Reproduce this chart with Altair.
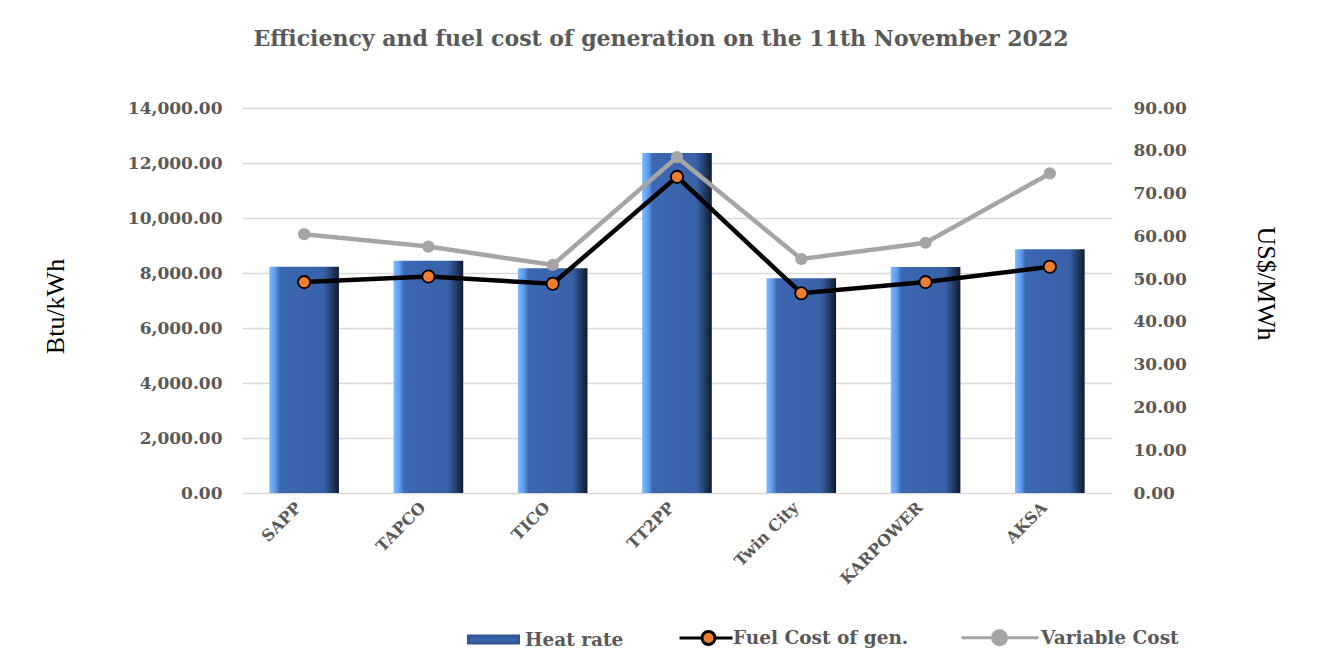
import altair as alt
import pandas as pd

plants = ["SAPP", "TAPCO", "TICO", "TT2PP", "Twin City", "KARPOWER", "AKSA"]
heat_rate = [8230, 8450, 8170, 12360, 7810, 8220, 8860]
fuel_cost = [49.3, 50.6, 48.9, 73.9, 46.7, 49.3, 52.9]
variable_cost = [60.5, 57.6, 53.3, 78.5, 54.7, 58.5, 74.7]

series_names = ["Heat rate", "Fuel Cost of gen.", "Variable Cost"]
fill_colors = ["#3a64aa", "#ED7D31", "#A5A5A5"]
stroke_colors = ["#2f5597", "#000000", "#A5A5A5"]
legend_shapes = [
    "M-0.5,-0.35H4.5V0.35H-0.5Z",
    "M-0.2,0H2.05M3.35,0H5.1M3.35,0A0.65,0.65 0 1,1 2.05,0A0.65,0.65 0 1,1 3.35,0Z",
    "M-2.8,0H0.3M1.7,0H4.9M1.7,0A0.7,0.7 0 1,1 0.3,0A0.7,0.7 0 1,1 1.7,0Z",
]

FONT = "DejaVu Serif"
GREY = "#595959"

bars_df = pd.DataFrame({"plant": plants, "heat": heat_rate})
lines_df = pd.DataFrame({
    "plant": plants * 2,
    "series": ["Fuel Cost of gen."] * len(plants) + ["Variable Cost"] * len(plants),
    "cost": fuel_cost + variable_cost,
})

x_enc = alt.X(
    "plant:N",
    sort=plants,
    scale=alt.Scale(paddingInner=0.44, paddingOuter=0.22),
    axis=alt.Axis(
        title=None, labelAngle=-45, labelFont=FONT, labelFontWeight="bold",
        labelFontSize=16, labelColor=GREY, ticks=False, domain=False,
        labelPadding=6, labelOffset=-11,
    ),
)

bar_gradient = alt.Gradient(
    gradient="linear",
    x1=0, x2=1, y1=0, y2=0,
    stops=[
        alt.GradientStop(color="#7cb9ff", offset=0),
        alt.GradientStop(color="#5b9aea", offset=0.09),
        alt.GradientStop(color="#3c68b2", offset=0.15),
        alt.GradientStop(color="#3861a8", offset=0.78),
        alt.GradientStop(color="#284677", offset=0.87),
        alt.GradientStop(color="#101a30", offset=1),
    ],
)

bars = alt.Chart(bars_df).mark_bar(fill=bar_gradient).encode(
    x=x_enc,
    y=alt.Y(
        "heat:Q",
        scale=alt.Scale(domain=[0, 14000], nice=False),
        axis=alt.Axis(
            values=[0, 2000, 4000, 6000, 8000, 10000, 12000, 14000],
            format=",.2f", labelFont=FONT, labelFontWeight="bold",
            labelFontSize=17, labelColor=GREY, ticks=False, domain=False,
            labelPadding=20, gridColor="#d9d9d9", gridWidth=1.5,
            title="Btu/kWh", titleFont="Liberation Serif", titleFontWeight="normal",
            titleFontSize=26, titleColor="#000000", titleX=-187, titleY=198,
            titleAngle=-90, titleAlign="center", titleBaseline="middle",
        ),
    ),
)

right_axis = alt.Axis(
    orient="right",
    values=[0, 10, 20, 30, 40, 50, 60, 70, 80, 90],
    format=".2f", labelFont=FONT, labelFontWeight="bold",
    labelFontSize=17, labelColor=GREY, ticks=False, domain=False,
    labelPadding=21, grid=False,
    title="US$/MWh", titleFont="Liberation Serif", titleFontWeight="normal",
    titleFontSize=26, titleColor="#000000", titleX=153, titleY=175,
    titleAngle=90, titleAlign="center", titleBaseline="middle",
)

y_cost = alt.Y("cost:Q", scale=alt.Scale(domain=[0, 90], nice=False), axis=right_axis)

lines = alt.Chart(lines_df).mark_line(strokeWidth=4.5).encode(
    x=x_enc,
    y=y_cost,
    detail="series:N",
    color=alt.Color("series:N", scale=alt.Scale(domain=["Fuel Cost of gen.", "Variable Cost"], range=["#000000", "#A5A5A5"]), legend=None),
)

var_points = alt.Chart(lines_df).transform_filter(
    alt.datum.series == "Variable Cost"
).mark_point(filled=True, size=150, shape="circle", color="#A5A5A5", opacity=1).encode(
    x=x_enc, y=y_cost,
)

fuel_points = alt.Chart(lines_df).transform_filter(
    alt.datum.series == "Fuel Cost of gen."
).mark_point(filled=True, size=150, shape="circle", fill="#ED7D31", stroke="#000000",
             strokeWidth=1.8, opacity=1).encode(
    x=x_enc, y=y_cost,
)

legend_layer = alt.Chart(lines_df).transform_filter("false").mark_point(filled=True, opacity=1).encode(
    x=x_enc,
    y=y_cost,
    fill=alt.Fill("series:N", scale=alt.Scale(domain=series_names, range=fill_colors),
                  legend=alt.Legend(
                      title=None, orient="none", legendX=220, legendY=518,
                      direction="horizontal", columns=3, columnPadding=46,
                      symbolSize=400, symbolStrokeWidth=3, labelOffset=40,
                      labelFont=FONT, labelFontWeight="bold", labelFontSize=18.5,
                      labelColor=GREY, symbolOpacity=1, labelLimit=400,
                  )),
    stroke=alt.Stroke("series:N", scale=alt.Scale(domain=series_names, range=stroke_colors)),
    shape=alt.Shape("series:N", scale=alt.Scale(domain=series_names, range=legend_shapes)),
)

left_layer = bars
right_layer = alt.layer(lines, var_points, fuel_points, legend_layer)

chart = alt.layer(left_layer, right_layer).resolve_scale(
    y="independent", color="independent"
).properties(
    width=870,
    height=385,
    background="white",
    autosize=alt.AutoSizeParams(type="none"),
    padding={"left": 234, "top": 100, "right": 190, "bottom": 160},
    title=alt.TitleParams(
        "Efficiency and fuel cost of generation on the 11th November 2022",
        font=FONT, fontSize=22, fontWeight="bold", color=GREY,
        anchor="middle", offset=48, dx=-16,
    ),
).configure_view(strokeWidth=0, stroke="transparent")

chart.save("out.html", embed_options={"renderer": "svg", "actions": False})
